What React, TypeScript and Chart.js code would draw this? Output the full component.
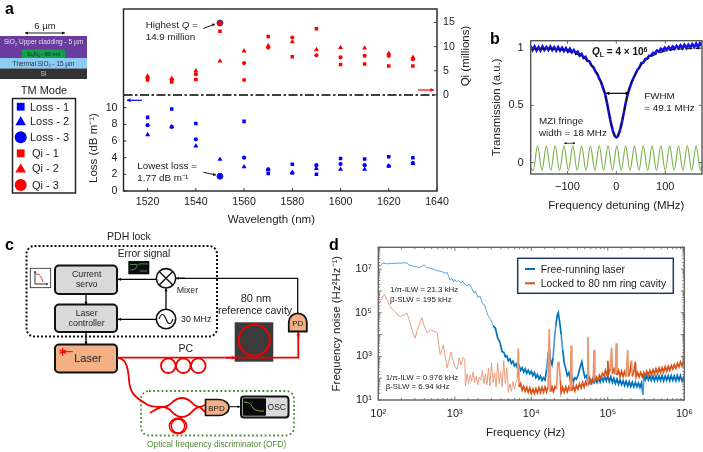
import React, { useEffect, useRef } from "react";
import { Chart, registerables } from "chart.js";

Chart.register(...registerables);
Chart.defaults.font.family = "'Liberation Sans', Arial, sans-serif";
Chart.defaults.color = "#222";

const FONT = "'Liberation Sans', Arial, sans-serif";

/* ---------- panel a data ---------- */
const wavelengths = [1520, 1530, 1540, 1550, 1560, 1570, 1580, 1590, 1600, 1610, 1620, 1630];
const qi1 = [3.1, 2.7, 3.2, 13.2, 3.1, 12.1, 7.9, 13.7, 6.3, 6.4, 6.0, 6.0];
const qi2 = [3.9, 3.4, 5.0, 7.0, 9.1, 10.2, 11.0, 9.4, 9.8, 9.7, 8.6, 7.8];
const qi3 = [3.5, 3.1, 4.3, 14.9, 6.6, 9.8, 11.9, 8.2, 7.8, 8.1, 8.1, 7.4];
const loss1 = [8.84, 9.84, 8.1, 1.9, 8.36, 2.1, 3.2, 2.0, 3.9, 3.84, 4.1, 4.0];
const loss2 = [6.76, 7.7, 5.4, 3.8, 2.9, 2.56, 2.24, 2.7, 2.6, 2.6, 3.0, 3.3];
const loss3 = [7.9, 7.7, 6.2, 1.77, 4.0, 2.6, 2.16, 3.1, 3.24, 3.1, 3.0, 3.36];
const wavelengthTicks = [1520, 1540, 1560, 1580, 1600, 1620, 1640];
const lossTicks = [0, 2, 4, 6, 8, 10];
const qiTicks = [0, 5, 10, 15];
const dividerX = [1510, 1640];
const dividerY = [0, 0];

/* ---------- panel b data ---------- */
const measured: [number, number][] = [
  [-175, 1.02], [-171, 0.985], [-167, 1.015], [-163, 0.98], [-159, 1.01], [-155, 0.98], [-151, 1.015], [-147, 0.985],
  [-143, 1.01], [-139, 0.985], [-135, 1.015], [-131, 0.985], [-127, 1.01], [-123, 0.98], [-119, 1.01], [-115, 0.98],
  [-111, 1.005], [-107, 0.975], [-103, 1.0], [-99, 0.97], [-95, 0.995], [-91, 0.965], [-87, 0.985], [-83, 0.955],
  [-79, 0.97], [-75, 0.935], [-71, 0.95], [-67, 0.915], [-63, 0.925], [-59, 0.89], [-55, 0.885], [-51, 0.85],
  [-47, 0.835], [-43, 0.8], [-39, 0.775], [-35, 0.735], [-31, 0.7], [-27, 0.65], [-23, 0.6], [-19, 0.52],
  [-15, 0.43], [-11, 0.345], [-7, 0.275], [-3, 0.23], [0, 0.22], [3, 0.23], [7, 0.275], [11, 0.345],
  [15, 0.43], [19, 0.52], [23, 0.595], [27, 0.65], [31, 0.7], [35, 0.74], [39, 0.775], [43, 0.81],
  [47, 0.83], [51, 0.87], [55, 0.875], [59, 0.905], [63, 0.91], [67, 0.935], [71, 0.935], [75, 0.96],
  [79, 0.955], [83, 0.98], [87, 0.97], [91, 0.995], [95, 0.98], [99, 1.005], [103, 0.985], [107, 1.01],
  [111, 0.99], [115, 1.015], [119, 0.995], [123, 1.02], [127, 1.0], [131, 1.025], [135, 1.0], [139, 1.03],
  [143, 1.0], [147, 1.03], [151, 1.005], [155, 1.035], [159, 1.01], [163, 1.04], [167, 1.01], [171, 1.045], [175, 1.02],
];
const fitX = [-175, -140, -110, -85, -65, -50, -35, -25, -15, -8, 0, 8, 15, 25, 35, 50, 65, 85, 110, 140, 175];
const fitY = [0.995, 0.995, 0.985, 0.955, 0.91, 0.85, 0.74, 0.63, 0.43, 0.29, 0.22, 0.29, 0.43, 0.63, 0.74, 0.85, 0.91, 0.955, 0.985, 0.995, 1.0];
const mziX = [-175, -170, -161, -152, -143, -134, -125, -116, -107, -98, -89, -80, -71, -62, -53, -44, -35, -26, -17, -8, 1, 10, 19, 28, 37, 46, 55, 64, 73, 82, 91, 100, 109, 118, 127, 136, 145, 154, 163, 172, 175];
const mziY = [-0.05, -0.07, 0.146, -0.07, 0.146, -0.07, 0.146, -0.07, 0.146, -0.07, 0.146, -0.07, 0.146, -0.07, 0.146, -0.07, 0.146, -0.07, 0.146, -0.07, 0.146, -0.07, 0.146, -0.07, 0.146, -0.07, 0.146, -0.07, 0.146, -0.07, 0.146, -0.07, 0.146, -0.07, 0.146, -0.07, 0.146, -0.07, 0.146, -0.07, -0.02];
const detuneTicks = [-100, 0, 100];
const transTicks = [0, 0.5, 1];

/* ---------- panel d data: [log10 frequency, log10 noise] ---------- */
const freeRunning: [number, number][] = [
  [2.0, 7.08], [2.03, 7.16], [2.06, 7.28], [2.09, 7.26], [2.12, 7.24], [2.16, 7.27], [2.2, 7.26], [2.25, 7.27], [2.32, 7.28], [2.37, 7.29],
  [2.4, 7.2], [2.43, 7.16], [2.47, 7.12], [2.52, 7.08], [2.56, 7.1], [2.6, 7.2], [2.63, 7.08], [2.67, 7.05], [2.72, 7.0], [2.76, 6.93],
  [2.8, 6.91], [2.84, 6.87], [2.87, 6.82], [2.9, 6.84], [2.92, 6.66], [2.94, 6.5], [2.96, 6.58], [2.98, 6.42], [3.0, 6.52], [3.02, 6.42],
  [3.05, 6.48], [3.08, 6.36], [3.1, 6.44], [3.13, 6.3], [3.16, 6.24], [3.19, 6.3], [3.22, 6.14], [3.25, 5.9], [3.27, 6.0], [3.3, 5.7],
  [3.33, 5.76], [3.36, 5.42], [3.39, 5.36], [3.42, 5.0], [3.44, 4.83], [3.47, 4.7], [3.5, 4.4], [3.53, 4.3], [3.56, 3.85], [3.59, 3.65],
  [3.62, 3.2], [3.64, 3.2], [3.66, 2.98], [3.68, 3.02], [3.7, 2.8], [3.72, 2.88], [3.74, 2.68], [3.76, 2.78], [3.78, 2.56], [3.8, 2.66],
  [3.82, 2.45], [3.84, 2.58], [3.86, 2.36], [3.88, 2.48], [3.9, 2.28], [3.92, 2.42], [3.94, 2.22], [3.96, 2.36], [3.98, 2.2], [4.0, 2.32],
  [4.02, 2.12], [4.04, 2.26], [4.06, 2.02], [4.08, 2.16], [4.1, 1.96], [4.12, 2.1], [4.14, 1.9], [4.16, 2.02], [4.18, 1.92], [4.2, 2.4],
  [4.22, 3.1], [4.235, 3.35], [4.25, 2.85], [4.27, 2.62], [4.285, 2.95], [4.3, 3.7], [4.32, 4.4], [4.34, 4.9], [4.353, 5.0], [4.37, 4.6],
  [4.39, 4.0], [4.41, 3.3], [4.43, 2.7], [4.45, 2.45], [4.47, 2.12], [4.49, 2.26], [4.51, 1.9], [4.53, 2.1], [4.55, 1.84], [4.57, 2.02],
  [4.59, 1.96], [4.61, 2.12], [4.63, 2.4], [4.66, 2.75], [4.68, 2.36], [4.7, 2.04], [4.72, 2.12], [4.74, 1.82], [4.76, 2.02], [4.78, 1.78],
  [4.8, 1.98], [4.82, 1.8], [4.84, 1.98], [4.86, 1.8], [4.88, 2.0], [4.9, 1.82], [4.92, 2.04], [4.94, 1.86], [4.96, 2.08], [4.98, 1.88],
  [5.0, 2.1], [5.02, 1.84], [5.04, 2.06], [5.06, 1.8], [5.08, 2.0], [5.1, 1.76], [5.12, 1.96], [5.14, 1.72], [5.16, 1.92], [5.18, 1.7],
  [5.2, 1.88], [5.22, 1.66], [5.24, 1.86], [5.26, 1.64], [5.28, 1.84], [5.3, 1.62], [5.32, 1.82], [5.34, 1.6], [5.36, 1.8], [5.38, 1.6],
  [5.4, 1.78], [5.42, 1.58], [5.44, 1.78], [5.46, 1.25], [5.47, 2.12], [5.49, 1.92], [5.51, 2.12], [5.53, 1.92], [5.55, 2.1], [5.57, 1.9],
  [5.59, 2.1], [5.61, 1.88], [5.63, 2.1], [5.65, 1.9], [5.67, 2.1], [5.69, 1.9], [5.71, 2.12], [5.73, 1.88], [5.75, 2.1], [5.77, 1.9],
  [5.79, 2.12], [5.81, 1.88], [5.83, 2.12], [5.85, 1.9], [5.87, 2.1], [5.89, 1.88], [5.91, 2.12], [5.93, 1.9], [5.95, 2.12], [5.97, 1.88], [6.0, 2.1],
];
const lockedCavity: [number, number][] = [
  [2.0, 5.36], [2.04, 5.6], [2.08, 5.85], [2.12, 5.55], [2.17, 5.2], [2.22, 5.05], [2.26, 4.88], [2.29, 4.83], [2.33, 4.9], [2.375, 4.98],
  [2.41, 4.6], [2.45, 4.1], [2.48, 3.83], [2.52, 4.3], [2.57, 4.78], [2.6, 4.4], [2.64, 4.07], [2.68, 4.21], [2.73, 4.15], [2.77, 4.07],
  [2.81, 3.07], [2.85, 3.53], [2.9, 2.47], [2.95, 3.2], [2.98, 2.8], [3.0, 2.55], [3.03, 2.4], [3.06, 2.95], [3.08, 2.6], [3.11, 2.95],
  [3.13, 2.85], [3.14, 1.65], [3.16, 2.2], [3.18, 1.75], [3.2, 2.15], [3.22, 1.85], [3.24, 2.3], [3.26, 1.8], [3.28, 2.1], [3.3, 1.7],
  [3.32, 2.05], [3.34, 1.9], [3.36, 2.35], [3.38, 1.75], [3.4, 2.2], [3.42, 1.7], [3.44, 2.45], [3.46, 1.65], [3.48, 2.7], [3.5, 1.8],
  [3.52, 2.25], [3.54, 1.6], [3.56, 2.7], [3.58, 1.75], [3.6, 2.3], [3.62, 1.6], [3.64, 2.8], [3.66, 1.75], [3.68, 2.45], [3.7, 1.35],
  [3.72, 1.75], [3.74, 1.4], [3.76, 1.85], [3.78, 1.5], [3.8, 1.8], [3.82, 2.0], [3.83, 3.37], [3.84, 1.6], [3.86, 1.75], [3.88, 1.45],
  [3.9, 1.62], [3.92, 1.4], [3.94, 1.58], [3.96, 1.36], [3.98, 1.55], [4.0, 1.3], [4.02, 1.5], [4.04, 1.3], [4.06, 1.52], [4.08, 1.32],
  [4.1, 1.56], [4.12, 1.34], [4.14, 1.58], [4.16, 1.36], [4.18, 1.6], [4.2, 1.38], [4.22, 1.6], [4.235, 4.25], [4.25, 1.38], [4.27, 1.6],
  [4.29, 1.38], [4.31, 1.62], [4.33, 1.5], [4.345, 2.6], [4.36, 2.75], [4.38, 1.9], [4.39, 1.34], [4.41, 1.58], [4.43, 1.36], [4.45, 1.6],
  [4.47, 1.38], [4.49, 1.6], [4.51, 1.4], [4.52, 3.5], [4.53, 1.42], [4.55, 1.64], [4.57, 1.42], [4.59, 1.66], [4.61, 1.5], [4.63, 1.74],
  [4.65, 1.56], [4.67, 1.8], [4.69, 1.6], [4.71, 1.84], [4.73, 1.66], [4.74, 3.9], [4.75, 1.7], [4.77, 1.92], [4.79, 1.76], [4.81, 1.98],
  [4.82, 3.3], [4.83, 1.84], [4.85, 2.06], [4.87, 1.92], [4.89, 2.14], [4.91, 2.0], [4.93, 2.22], [4.95, 2.12], [4.97, 2.36], [4.99, 2.14],
  [5.0, 2.8], [5.01, 2.18], [5.03, 2.42], [5.05, 3.4], [5.06, 2.2], [5.08, 2.42], [5.1, 2.18], [5.11, 3.6], [5.12, 2.14], [5.14, 2.36],
  [5.16, 2.08], [5.18, 2.32], [5.2, 2.08], [5.22, 2.3], [5.24, 2.06], [5.26, 3.3], [5.27, 2.08], [5.29, 2.28], [5.31, 2.8], [5.32, 2.08],
  [5.34, 2.28], [5.36, 2.75], [5.37, 2.06], [5.39, 2.26], [5.41, 2.06], [5.43, 2.26], [5.45, 2.06], [5.47, 2.26], [5.49, 2.1], [5.51, 2.32],
  [5.53, 2.14], [5.55, 2.36], [5.57, 2.16], [5.59, 2.38], [5.61, 2.2], [5.63, 2.42], [5.65, 2.22], [5.67, 2.46], [5.69, 2.26], [5.71, 2.48],
  [5.73, 2.28], [5.75, 2.52], [5.77, 2.32], [5.79, 2.54], [5.81, 2.36], [5.83, 2.58], [5.85, 2.42], [5.87, 2.62], [5.89, 2.46], [5.91, 2.68],
  [5.93, 2.52], [5.95, 2.74], [5.97, 2.56], [5.99, 2.78], [6.0, 4.2],
];
const freqLabels: Record<number, string> = { 2: "10²", 3: "10³", 4: "10⁴", 5: "10⁵", 6: "10⁶" };
const noiseLabels: Record<number, string> = { 1: "10¹", 3: "10³", 5: "10⁵", 7: "10⁷" };

/* ---------- helpers ---------- */
const pts = (xs: number[], ys: number[]) => xs.map((x, i) => ({ x, y: ys[i] }));
const logPts = (p: [number, number][]) => p.map(([a, b]) => ({ x: 10 ** a, y: 10 ** b }));
const fixTicks = (values: number[]) => (s: any) => { s.ticks = values.map((value) => ({ value })); };
const fixW = (w: number) => (s: any) => { s.width = w; s.paddingTop = 0; s.paddingBottom = 0; };
const fixH = (h: number) => (s: any) => { s.height = h; s.paddingLeft = 0; s.paddingRight = 0; };

const frameTicks = {
  id: "frameTicks",
  afterDatasetsDraw(chart: any, _a: any, o: any) {
    const { ctx, chartArea: { left, right, top, bottom } } = chart;
    ctx.save();
    ctx.strokeStyle = o.color;
    ctx.lineWidth = o.width;
    ctx.strokeRect(left, top, right - left, bottom - top);
    ctx.lineWidth = 0.9;
    const mark = (x1: number, y1: number, x2: number, y2: number) => {
      ctx.beginPath(); ctx.moveTo(x1, y1); ctx.lineTo(x2, y2); ctx.stroke();
    };
    for (const id of Object.keys(chart.scales)) {
      const s = chart.scales[id];
      for (const t of s.ticks) {
        const isMajor = s.type !== "logarithmic" || Math.abs(Math.log10(t.value) - Math.round(Math.log10(t.value))) < 1e-6;
        const len = isMajor ? o.len : o.len * 0.55;
        const p = s.getPixelForValue(t.value);
        if (s.isHorizontal()) {
          mark(p, bottom, p, bottom - len);
          if (o.mirror) mark(p, top, p, top + len);
        } else if (s.position === "right") {
          mark(right, p, right - len, p);
        } else {
          mark(left, p, left + len, p);
          if (o.mirror) mark(right, p, right - len, p);
        }
      }
    }
    ctx.restore();
  },
};

function baseScale(font: number, padding: number) {
  return {
    grid: { display: false, drawTicks: false },
    border: { display: false },
    ticks: {
      font: { size: font }, padding, autoSkip: false, maxRotation: 0, minRotation: 0, color: "#222",
      callback: (v: number) => String(v),
    },
  };
}

function chartA(c: HTMLCanvasElement) {
  const marker = (label: string, data: number[], color: string, style: string, r: number, axis: string, big = false) => ({
    label,
    data: pts(wavelengths, data),
    yAxisID: axis,
    showLine: false,
    pointStyle: style,
    backgroundColor: color,
    pointBackgroundColor: color,
    pointBorderWidth: (ctx: any) => (big && ctx.raw.x === 1550 ? 1 : 0),
    pointBorderColor: axis === "y1" ? "#3c3c8c" : "#2a2ac0",
    pointRadius: (ctx: any) => (big && ctx.raw.x === 1550 ? 3 : r),
  });
  return new Chart(c, {
    type: "scatter",
    data: {
      datasets: [
        { ...marker("Loss - 3", loss3, "#0000ff", "circle", 2.1, "y", true), order: 0 },
        { ...marker("Loss - 2", loss2, "#0000ff", "triangle", 2.9, "y"), order: 1 },
        { ...marker("Loss - 1", loss1, "#0000ff", "rect", 2.5, "y"), order: 2 },
        { ...marker("Qi - 3", qi3, "#ff0000", "circle", 2.1, "y1", true), order: 0 },
        { ...marker("Qi - 2", qi2, "#ff0000", "triangle", 2.9, "y1"), order: 1 },
        { ...marker("Qi - 1", qi1, "#ff0000", "rect", 2.5, "y1"), order: 2 },
        {
          label: "Divider", data: pts(dividerX, dividerY), yAxisID: "y1", showLine: true, pointRadius: 0,
          borderColor: "#000", borderWidth: 1.6, borderDash: [9, 2.5, 2.5, 2.5], order: 3,
        },
      ] as any,
    },
    options: {
      animation: false, responsive: false,
      layout: { padding: { top: 9, right: 0, left: 0, bottom: 0 } },
      plugins: {
        legend: { display: false }, tooltip: { enabled: false },
        frameTicks: { color: "#222", width: 1.4, len: 3, mirror: false },
      } as any,
      scales: {
        x: {
          ...baseScale(10.6, 5), type: "linear", min: 1510, max: 1640,
          afterBuildTicks: fixTicks(wavelengthTicks), afterFit: fixH(34),
        },
        y: {
          ...baseScale(10.6, 6), type: "linear", position: "left", min: 0, max: 21.85,
          afterBuildTicks: fixTicks(lossTicks), afterFit: fixW(38.5),
        },
        y1: {
          ...baseScale(10.6, 6), type: "linear", position: "right", min: -19.9, max: 17.8,
          afterBuildTicks: fixTicks(qiTicks), afterFit: fixW(43),
        },
      },
    } as any,
    plugins: [frameTicks] as any,
  });
}

function chartB(c: HTMLCanvasElement) {
  return new Chart(c, {
    type: "scatter",
    data: {
      datasets: [
        { label: "Fit", data: pts(fitX, fitY), showLine: true, pointRadius: 0, borderColor: "#111", borderWidth: 1.2, borderDash: [6, 3], cubicInterpolationMode: "monotone", order: 0 },
        { label: "Measured", data: measured.map(([x, y]) => ({ x, y })), showLine: true, pointRadius: 0, borderColor: "#1414e6", borderWidth: 2.6, order: 1 },
        { label: "MZI fringe", data: pts(mziX, mziY), showLine: true, pointRadius: 0, borderColor: "#76b043", borderWidth: 1.1, cubicInterpolationMode: "monotone", order: 2 },
      ] as any,
    },
    options: {
      animation: false, responsive: false,
      layout: { padding: { top: 10.7, right: 1, left: 0, bottom: 0 } },
      plugins: {
        legend: { display: false }, tooltip: { enabled: false },
        frameTicks: { color: "#555", width: 1.4, len: 3, mirror: true },
      } as any,
      scales: {
        x: {
          ...baseScale(11, 6), type: "linear", min: -175, max: 175,
          afterBuildTicks: fixTicks(detuneTicks), afterFit: fixH(51),
          ticks: { ...baseScale(11, 6).ticks, callback: (v: number) => (v < 0 ? "−" + Math.abs(v) : String(v)) },
          title: { display: true, text: "Frequency detuning (MHz)", font: { size: 11.5 }, padding: { top: 0, bottom: 12 }, color: "#222" },
        },
        y: {
          ...baseScale(11, 7), type: "linear", min: -0.1, max: 1.066,
          afterBuildTicks: fixTicks(transTicks), afterFit: fixW(50.7),
          title: { display: true, text: "Transmission (a.u.)", font: { size: 11.5 }, padding: { top: 10, bottom: 0 }, color: "#222" },
        },
      },
    } as any,
    plugins: [frameTicks] as any,
  });
}

function chartD(c: HTMLCanvasElement) {
  const seg = (light: string, dark: string, limit: number) => ({
    borderColor: (ctx: any) => {
      const jump = Math.abs(Math.log10(ctx.p1.parsed.y / ctx.p0.parsed.y));
      return ctx.p0.parsed.x < limit || jump > 0.7 ? light : dark;
    },
    borderWidth: (ctx: any) => (ctx.p0.parsed.x < limit ? 0.9 : 1.7),
  });
  return new Chart(c, {
    type: "scatter",
    data: {
      datasets: [
        { label: "Locked to 80 nm ring cavity", data: logPts(lockedCavity), showLine: true, pointRadius: 0, borderColor: "#d95319", borderWidth: 1.7, segment: seg("#ea9470", "#d95319", 6500), order: 0 },
        { label: "Free-running laser", data: logPts(freeRunning), showLine: true, pointRadius: 0, borderColor: "#0072bd", borderWidth: 1.7, segment: seg("#4a9ad6", "#0072bd", 3000), order: 1 },
      ] as any,
    },
    options: {
      animation: false, responsive: false,
      layout: { padding: { top: 7.3, right: 18.7, left: 0, bottom: 0 } },
      plugins: {
        legend: { display: false }, tooltip: { enabled: false },
        frameTicks: { color: "#666", width: 1.4, len: 3.5, mirror: true },
      } as any,
      scales: {
        x: {
          ...baseScale(11, 7), type: "logarithmic", min: 100, max: 1e6, afterFit: fixH(52),
          ticks: { ...baseScale(11, 7).ticks, callback: (v: number) => { const e = Math.log10(v); return Math.abs(e - Math.round(e)) < 1e-6 ? freqLabels[Math.round(e)] ?? "" : ""; } },
        },
        y: {
          ...baseScale(11, 6.5), type: "logarithmic", min: 10, max: 1e8, afterFit: fixW(48.3),
          ticks: { ...baseScale(11, 6.5).ticks, callback: (v: number) => { const e = Math.log10(v); return Math.abs(e - Math.round(e)) < 1e-6 ? noiseLabels[Math.round(e)] ?? "" : ""; } },
          title: { display: true, text: "Frequency noise (Hz²Hz⁻¹)", font: { size: 11.5 }, padding: { top: 0, bottom: 0 }, color: "#222" },
        },
      },
    } as any,
    plugins: [frameTicks] as any,
  });
}

/* ---------- overlay helpers ---------- */
function Arrow({ x1, y1, x2, y2, c = "#000", w = 1.3, h = 4, both = false }: any) {
  const a = Math.atan2(y2 - y1, x2 - x1);
  const head = (x: number, y: number, ang: number) => {
    const b = h * 1.1, d = h * 0.62;
    const p = [
      [x, y],
      [x - b * Math.cos(ang) + d * Math.sin(ang), y - b * Math.sin(ang) - d * Math.cos(ang)],
      [x - b * Math.cos(ang) - d * Math.sin(ang), y - b * Math.sin(ang) + d * Math.cos(ang)],
    ];
    return <polygon points={p.map((q) => q.join(",")).join(" ")} fill={c} />;
  };
  return (
    <g>
      <line x1={x1} y1={y1} x2={x2} y2={y2} stroke={c} strokeWidth={w} />
      {head(x2, y2, a)}
      {both && head(x1, y1, a + Math.PI)}
    </g>
  );
}

function T({ x, y, s = 10, c = "#222", a = "start", w = "normal", children, rot }: any) {
  return (
    <text x={x} y={y} fontSize={s} fill={c} textAnchor={a} fontWeight={w} fontFamily={FONT}
      transform={rot ? `rotate(${rot} ${x} ${y})` : undefined}>
      {children}
    </text>
  );
}

const Sub = ({ s, children }: any) => <tspan dy={s * 0.25} fontSize={s * 0.65}>{children}</tspan>;
const Up = ({ s, children }: any) => <tspan dy={-s * 0.25}>{children}</tspan>;

function Overlay() {
  const legendRows = [
    { label: "Loss - 1", y: 106.7, c: "#0000ff", k: "s", x: 30 },
    { label: "Loss - 2", y: 121, c: "#0000ff", k: "t", x: 30 },
    { label: "Loss - 3", y: 137.3, c: "#0000ff", k: "c", x: 30 },
    { label: "Qi - 1", y: 153.3, c: "#ff0000", k: "s", x: 32 },
    { label: "Qi - 2", y: 168.3, c: "#ff0000", k: "t", x: 32 },
    { label: "Qi - 3", y: 185, c: "#ff0000", k: "c", x: 32 },
  ];
  const orange = "#f2b084";
  const red = "#f00000";
  const ofd = "#4f8a2f";
  return (
    <svg width={703} height={452} style={{ position: "absolute", left: 0, top: 0, pointerEvents: "none" }}>
      {/* panel letters */}
      <T x={5} y={14} s={16} c="#000" w="bold">a</T>
      <T x={490} y={44} s={16} c="#000" w="bold">b</T>
      <T x={5} y={250} s={16} c="#000" w="bold">c</T>
      <T x={329} y={250} s={16} c="#000" w="bold">d</T>

      {/* waveguide stack */}
      <T x={45} y={28.5} s={9.5} a="middle">6 µm</T>
      <Arrow x1={25} y1={33} x2={65} y2={33} w={0.9} h={2.6} both />
      <rect x={0} y={36} width={87} height={22} fill="#6a3c9e" />
      <rect x={22} y={49.5} width={43} height={8.5} fill="#12a04a" />
      <rect x={0} y={58} width={87} height={10.5} fill="#8ccbf3" />
      <rect x={0} y={68.5} width={87} height={10.5} fill="#333" />
      <T x={43.5} y={44.3} s={6.5} c="#e6dcf0" a="middle">SiO<Sub s={6.5}>2</Sub><Up s={6.5}> Upper cladding - 5 µm</Up></T>
      <T x={43.5} y={56} s={5.6} c="#123" a="middle">Si<Sub s={5.6}>3</Sub><Up s={5.6}>N</Up><Sub s={5.6}>4</Sub><Up s={5.6}> - 80 nm</Up></T>
      <T x={43.5} y={65.5} s={6.4} c="#234" a="middle">Thermal SiO<Sub s={6.4}>2</Sub><Up s={6.4}> - 15 µm</Up></T>
      <T x={43.5} y={76.3} s={6.6} c="#ccc" a="middle">Si</T>

      {/* marker legend */}
      <T x={44} y={94} s={11} a="middle">TM Mode</T>
      <rect x={12.5} y={98.5} width={63} height={94.5} fill="#fff" stroke="#222" strokeWidth={1.5} />
      {legendRows.map((r) => (
        <g key={r.label}>
          {r.k === "s" && <rect x={16.8} y={r.y - 3.9} width={7.8} height={7.8} fill={r.c} />}
          {r.k === "t" && <polygon points={`${20.7},${r.y - 5} ${26},${r.y + 4.2} ${15.4},${r.y + 4.2}`} fill={r.c} />}
          {r.k === "c" && <circle cx={20.7} cy={r.y} r={6} fill={r.c} />}
          <T x={r.x} y={r.y + 3.9} s={11}>{r.label}</T>
        </g>
      ))}

      {/* panel a annotations */}
      <T x={96.5} y={148} s={11.5} a="middle" rot={-90}>Loss (dB m⁻¹)</T>
      <T x={469} y={56} s={11.5} a="middle" rot={-90}>Qi (millions)</T>
      <T x={271.4} y={223} s={11.5} a="middle">Wavelength (nm)</T>
      <Arrow x1={142} y1={100.3} x2={127} y2={100.3} c="#0000ff" w={1.2} h={3.2} />
      <Arrow x1={418} y1={90} x2={434} y2={90} c="#ff0000" w={1.2} h={3.2} />
      <T x={145.7} y={28} s={9.8}>Highest <tspan fontStyle="italic">Q</tspan> =</T>
      <T x={145.7} y={40} s={9.8}>14.9 million</T>
      <Arrow x1={203.3} y1={28.5} x2={215} y2={24} w={0.9} h={2.6} />
      <T x={137.3} y={169} s={9.8}>Lowest loss =</T>
      <T x={137.3} y={180.5} s={9.8}>1.77 dB m⁻¹</T>
      <Arrow x1={203.3} y1={172.3} x2={216} y2={175} w={0.9} h={2.6} />

      {/* panel b annotations */}
      <T x={592} y={55} s={10} c="#111" w="bold"><tspan fontStyle="italic">Q</tspan><tspan dy={2} fontSize={7}>L</tspan><tspan dy={-2}> = 4 × 10</tspan><tspan dy={-3} fontSize={7}>6</tspan></T>
      <T x={644.3} y={99} s={9.8}>FWHM</T>
      <T x={644.3} y={110.7} s={9.8}>= 49.1 MHz</T>
      <T x={539} y={124.3} s={9.8}>MZI fringe</T>
      <T x={539} y={136.3} s={9.8}>width = 18 MHz</T>
      <Arrow x1={606} y1={93.3} x2={629} y2={93.3} w={1.2} h={3} both />
      <Arrow x1={564.3} y1={143.3} x2={575} y2={143.3} w={0.7} h={1.9} both />

      {/* panel d annotations */}
      <T x={525.5} y={436} s={11.5} a="middle">Frequency (Hz)</T>
      <T x={390} y={292} s={7.9}>1/π-ILW = 21.3 kHz</T>
      <T x={390} y={301.7} s={7.9}>β-SLW = 195 kHz</T>
      <T x={385.7} y={379.7} s={7.9}>1/π-ILW = 0.976 kHz</T>
      <T x={385.7} y={389.3} s={7.9}>β-SLW = 6.94 kHz</T>
      <rect x={517.7} y={258.3} width={155.6} height={35} fill="#fff" stroke="#1f3a64" strokeWidth={1.5} />
      <line x1={525} y1={269} x2={535} y2={269} stroke="#0072bd" strokeWidth={2} />
      <line x1={525} y1={283.3} x2={535} y2={283.3} stroke="#d95319" strokeWidth={2} />
      <T x={540.7} y={272.8} s={10.3}>Free-running laser</T>
      <T x={540.7} y={287} s={10.3}>Locked to 80 nm ring cavity</T>

      {/* panel c schematic */}
      <rect x={26.5} y={246} width={190.5} height={90.5} rx={8} fill="none" stroke="#111" strokeWidth={2} strokeDasharray="2 2" />
      <T x={129} y={239.7} s={10.5} a="middle">PDH lock</T>
      <T x={144} y={256.7} s={10.3} a="middle">Error signal</T>
      <rect x={128.3} y={261} width={21} height={13.3} fill="#0a0f14" />
      <path d="M130 270 C134 270 136 269 137 266 C138 263 143 264 148 264" stroke="#5aa83a" strokeWidth={0.8} fill="none" />
      <path d="M130 264.5 L137 264.5 M140 271 L147 271" stroke="#9ccc7a" strokeWidth={0.6} fill="none" />
      <rect x={30.3} y={268.3} width={20.4} height={19.4} fill="#fff" stroke="#222" strokeWidth={0.8} />
      <Arrow x1={35} y1={284} x2={35} y2={271} w={0.8} h={1.6} />
      <Arrow x1={35} y1={284} x2={48} y2={284} w={0.8} h={1.6} />
      <path d="M35.5 274 C40 274 41 276 43 282" stroke="#d02020" strokeWidth={0.9} fill="none" />

      <rect x={55} y={265.5} width={62} height={28.5} rx={4} fill="#d9d9d9" stroke="#111" strokeWidth={2} />
      <T x={86.7} y={276.7} s={8.8} a="middle">Current</T>
      <T x={86.7} y={286.7} s={8.8} a="middle">servo</T>
      <rect x={55} y={304.5} width={62} height={27.5} rx={4} fill="#d9d9d9" stroke="#111" strokeWidth={2} />
      <T x={86.7} y={316} s={8.8} a="middle">Laser</T>
      <T x={86.7} y={326} s={8.8} a="middle">controller</T>
      <rect x={55} y={344.5} width={62} height={28} rx={4} fill={orange} stroke="#111" strokeWidth={2} />
      <T x={88} y={362} s={11} a="middle">Laser</T>
      <Arrow x1={86} y1={294} x2={86} y2={304.5} w={1.3} h={2.6} />
      <Arrow x1={86} y1={332} x2={86} y2={344.5} w={1.3} h={2.6} />
      <path d="M62.7 348 L62.7 355.5 M59.5 350 L66 353.5 M59.5 353.5 L66 350" stroke={red} strokeWidth={1.2} />
      <line x1={62.7} y1={351.7} x2={72.7} y2={351.7} stroke={red} strokeWidth={1} />

      <Arrow x1={156.3} y1={279.3} x2={118} y2={279.3} w={1.3} h={2.6} />
      <Arrow x1={156} y1={319.3} x2={118} y2={319.3} w={1.3} h={2.6} />
      <Arrow x1={166} y1={309} x2={166} y2={288.5} w={1.3} h={2.6} />
      <path d="M297.7 314 L297.7 278.3 L180 278.3" fill="none" stroke="#111" strokeWidth={1.3} />
      <Arrow x1={185} y1={278.3} x2={176} y2={278.3} w={1.3} h={2.6} />
      <circle cx={166} cy={278.3} r={9.7} fill="#fff" stroke="#111" strokeWidth={1.6} />
      <path d="M159.2 271.5 L172.8 285.1 M172.8 271.5 L159.2 285.1" stroke="#111" strokeWidth={1.4} />
      <circle cx={166} cy={319} r={9.7} fill="#fff" stroke="#111" strokeWidth={1.6} />
      <path d="M159 319 C161.5 312 164 314 166 319 C168 324 170.5 326 173 319" fill="none" stroke="#111" strokeWidth={1.1} />
      <T x={176.7} y={292.7} s={8.8}>Mixer</T>
      <T x={181} y={322} s={8.8}>30 MHz</T>

      <T x={256} y={301.7} s={11} a="middle">80 nm</T>
      <T x={255} y={314} s={10.5} a="middle">reference cavity</T>
      <rect x={234.7} y={322.3} width={38.6} height={39.4} fill="#3b3b3b" />
      <circle cx={254.3} cy={340.3} r={15.5} fill="none" stroke={red} strokeWidth={2} />
      <T x={185.7} y={352} s={10.5} a="middle">PC</T>
      <circle cx={168.3} cy={365.7} r={7.3} fill="none" stroke={red} strokeWidth={1.8} />
      <circle cx={183.3} cy={365.7} r={7.3} fill="none" stroke={red} strokeWidth={1.8} />
      <circle cx={198.3} cy={365.7} r={7.3} fill="none" stroke={red} strokeWidth={1.8} />
      <path d="M117.5 357.7 L298.3 357.7 L298.3 336" fill="none" stroke={red} strokeWidth={1.8} />
      <Arrow x1={226} y1={357.7} x2={235} y2={357.7} c={red} w={1.8} h={3} />
      <Arrow x1={298.3} y1={338} x2={298.3} y2={332} c={red} w={1.8} h={3.2} />
      <path d="M288.8 331.5 L288.8 322 A9 8.7 0 0 1 306.8 322 L306.8 331.5 Z" fill={orange} stroke="#111" strokeWidth={1.8} />
      <T x={297.8} y={326} s={8} a="middle">PD</T>

      {/* OFD */}
      <rect x={141} y={391} width={153} height={44.5} rx={8} fill="none" stroke={ofd} strokeWidth={1.8} strokeDasharray="1.8 2.4" />
      <path d="M117.5 357.7 C126 359 128 366 129 380 C130 393 134 397 148 405 C152 407 157 407 163 407 C172 407 172 398 182 398 C192 398 192 407 200 407 L205 405 M150 413 C154 411 158 407 163 407 C172 407 172 417 182 417 C192 417 192 407 200 407 L205 412"
        fill="none" stroke={red} strokeWidth={1.8} />
      <ellipse cx={178} cy={426} rx={8.6} ry={7.6} fill="none" stroke={red} strokeWidth={1.6} />
      <ellipse cx={178} cy={426} rx={6.6} ry={7} fill="none" stroke={red} strokeWidth={1.4} />
      <path d="M205.5 399.5 L219 399.5 A10 8 0 0 1 219 415.5 L205.5 415.5 Z" fill={orange} stroke="#111" strokeWidth={1.6} />
      <T x={216.5} y={410.5} s={8} a="middle">BPD</T>
      <Arrow x1={229.3} y1={406.7} x2={240} y2={406.7} w={1} h={2.3} />
      <rect x={241} y={396.5} width={47.5} height={21} rx={3} fill="#d9d9d9" stroke="#111" strokeWidth={2} />
      <rect x={242.7} y={398.3} width={23.3} height={17.4} rx={1} fill="#0a0a0a" />
      <path d="M244 402 C249 402 251 404 253 408 C255 411 259 411 264 411" fill="none" stroke="#7ab648" strokeWidth={1} />
      <T x={276.8} y={410} s={8.5} a="middle">OSC</T>
      <T x={216.7} y={447.3} s={8.3} c={ofd} a="middle">Optical frequency discriminator (OFD)</T>
    </svg>
  );
}

export default function App() {
  const a = useRef<HTMLCanvasElement>(null);
  const b = useRef<HTMLCanvasElement>(null);
  const d = useRef<HTMLCanvasElement>(null);
  useEffect(() => {
    const charts = [chartA(a.current!), chartB(b.current!), chartD(d.current!)];
    return () => charts.forEach((c) => c.destroy());
  }, []);
  const pos = (left: number, top: number): React.CSSProperties => ({ position: "absolute", left, top });
  return (
    <div style={{ position: "absolute", left: 0, top: 0, width: 703, height: 452, background: "#fff", overflow: "hidden" }}>
      <canvas ref={a} width={395} height={225} style={pos(85, 0)} />
      <canvas ref={b} width={223} height={195} style={pos(480, 30)} />
      <canvas ref={d} width={373} height={212} style={pos(330, 240)} />
      <Overlay />
    </div>
  );
}
